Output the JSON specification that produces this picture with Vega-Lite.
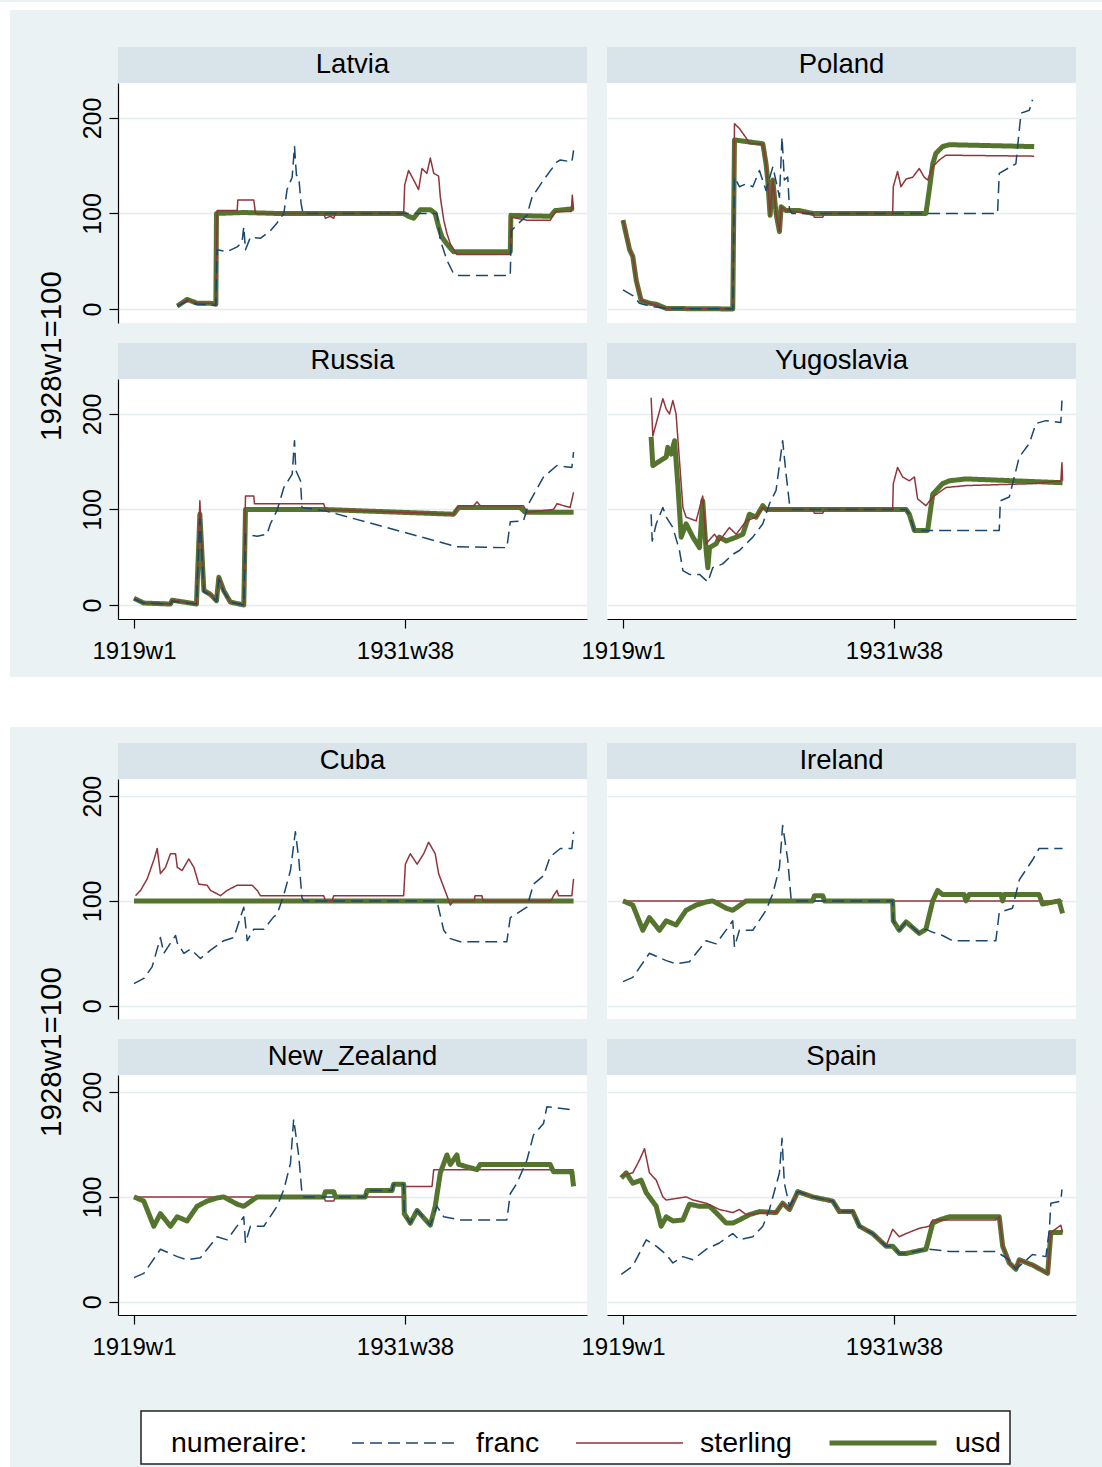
{
"$schema": "https://vega.github.io/schema/vega-lite/v6.json",
"padding": 0,
"background": "#eaf2f3",
"datasets": {"d": [
{"c":"LV","n":"u","t":1921.03,"v":3},{"c":"LV","n":"u","t":1921.49,"v":10},{"c":"LV","n":"u","t":1921.96,"v":6},{"c":"LV","n":"u","t":1922.59,"v":6},{"c":"LV","n":"u","t":1922.84,"v":5},{"c":"LV","n":"u","t":1922.87,"v":100},{"c":"LV","n":"u","t":1924.15,"v":101},{"c":"LV","n":"u","t":1925.71,"v":100},{"c":"LV","n":"u","t":1927.28,"v":100},{"c":"LV","n":"u","t":1928.84,"v":100},{"c":"LV","n":"u","t":1931.65,"v":100},{"c":"LV","n":"u","t":1931.88,"v":97},{"c":"LV","n":"u","t":1932.12,"v":95},{"c":"LV","n":"u","t":1932.43,"v":104},{"c":"LV","n":"u","t":1932.9,"v":104},{"c":"LV","n":"u","t":1933.13,"v":100},{"c":"LV","n":"u","t":1933.29,"v":86},{"c":"LV","n":"u","t":1933.45,"v":75},{"c":"LV","n":"u","t":1933.68,"v":68},{"c":"LV","n":"u","t":1933.99,"v":60},{"c":"LV","n":"u","t":1936.65,"v":60},{"c":"LV","n":"u","t":1936.68,"v":98},{"c":"LV","n":"u","t":1938.53,"v":97},{"c":"LV","n":"u","t":1938.76,"v":103},{"c":"LV","n":"u","t":1939.62,"v":105},
{"c":"LV","n":"s","t":1921.03,"v":3},{"c":"LV","n":"s","t":1921.49,"v":10},{"c":"LV","n":"s","t":1921.96,"v":6},{"c":"LV","n":"s","t":1922.59,"v":6},{"c":"LV","n":"s","t":1922.84,"v":5},{"c":"LV","n":"s","t":1922.9,"v":103},{"c":"LV","n":"s","t":1923.84,"v":103},{"c":"LV","n":"s","t":1923.87,"v":114},{"c":"LV","n":"s","t":1924.62,"v":114},{"c":"LV","n":"s","t":1924.7,"v":100},{"c":"LV","n":"s","t":1927.9,"v":100},{"c":"LV","n":"s","t":1927.98,"v":95},{"c":"LV","n":"s","t":1928.21,"v":97},{"c":"LV","n":"s","t":1928.37,"v":95},{"c":"LV","n":"s","t":1928.45,"v":100},{"c":"LV","n":"s","t":1931.65,"v":100},{"c":"LV","n":"s","t":1931.7,"v":130},{"c":"LV","n":"s","t":1931.88,"v":145},{"c":"LV","n":"s","t":1932.12,"v":135},{"c":"LV","n":"s","t":1932.35,"v":125},{"c":"LV","n":"s","t":1932.51,"v":147},{"c":"LV","n":"s","t":1932.74,"v":142},{"c":"LV","n":"s","t":1932.9,"v":158},{"c":"LV","n":"s","t":1933.06,"v":142},{"c":"LV","n":"s","t":1933.29,"v":139},{"c":"LV","n":"s","t":1933.37,"v":117},{"c":"LV","n":"s","t":1933.53,"v":93},{"c":"LV","n":"s","t":1933.68,"v":79},{"c":"LV","n":"s","t":1933.84,"v":68},{"c":"LV","n":"s","t":1934.15,"v":57},{"c":"LV","n":"s","t":1936.65,"v":57},{"c":"LV","n":"s","t":1936.7,"v":96},{"c":"LV","n":"s","t":1937.43,"v":93},{"c":"LV","n":"s","t":1938.53,"v":93},{"c":"LV","n":"s","t":1938.76,"v":102},{"c":"LV","n":"s","t":1939.51,"v":102},{"c":"LV","n":"s","t":1939.56,"v":119},{"c":"LV","n":"s","t":1939.62,"v":104},
{"c":"LV","n":"f","t":1921.03,"v":3},{"c":"LV","n":"f","t":1921.49,"v":8},{"c":"LV","n":"f","t":1921.96,"v":5},{"c":"LV","n":"f","t":1922.59,"v":4},{"c":"LV","n":"f","t":1922.84,"v":4},{"c":"LV","n":"f","t":1922.9,"v":62},{"c":"LV","n":"f","t":1923.37,"v":60},{"c":"LV","n":"f","t":1923.84,"v":65},{"c":"LV","n":"f","t":1924.07,"v":70},{"c":"LV","n":"f","t":1924.15,"v":86},{"c":"LV","n":"f","t":1924.23,"v":62},{"c":"LV","n":"f","t":1924.46,"v":75},{"c":"LV","n":"f","t":1924.93,"v":74},{"c":"LV","n":"f","t":1925.4,"v":82},{"c":"LV","n":"f","t":1925.71,"v":90},{"c":"LV","n":"f","t":1926.03,"v":100},{"c":"LV","n":"f","t":1926.18,"v":125},{"c":"LV","n":"f","t":1926.42,"v":138},{"c":"LV","n":"f","t":1926.53,"v":170},{"c":"LV","n":"f","t":1926.62,"v":140},{"c":"LV","n":"f","t":1926.73,"v":138},{"c":"LV","n":"f","t":1926.84,"v":110},{"c":"LV","n":"f","t":1926.93,"v":100},{"c":"LV","n":"f","t":1933.21,"v":100},{"c":"LV","n":"f","t":1933.37,"v":72},{"c":"LV","n":"f","t":1933.68,"v":51},{"c":"LV","n":"f","t":1933.99,"v":37},{"c":"LV","n":"f","t":1934.23,"v":35},{"c":"LV","n":"f","t":1936.65,"v":35},{"c":"LV","n":"f","t":1936.7,"v":82},{"c":"LV","n":"f","t":1936.96,"v":88},{"c":"LV","n":"f","t":1937.43,"v":98},{"c":"LV","n":"f","t":1937.67,"v":117},{"c":"LV","n":"f","t":1938.21,"v":135},{"c":"LV","n":"f","t":1938.84,"v":154},{"c":"LV","n":"f","t":1939.0,"v":156},{"c":"LV","n":"f","t":1939.54,"v":154},{"c":"LV","n":"f","t":1939.62,"v":166},
{"c":"PL","n":"u","t":1919.0,"v":93},{"c":"PL","n":"u","t":1919.31,"v":62},{"c":"PL","n":"u","t":1919.46,"v":55},{"c":"PL","n":"u","t":1919.62,"v":30},{"c":"PL","n":"u","t":1919.85,"v":9},{"c":"PL","n":"u","t":1920.24,"v":6},{"c":"PL","n":"u","t":1920.56,"v":5},{"c":"PL","n":"u","t":1921.03,"v":0.5},{"c":"PL","n":"u","t":1924.15,"v":0},{"c":"PL","n":"u","t":1924.23,"v":177},{"c":"PL","n":"u","t":1925.56,"v":173},{"c":"PL","n":"u","t":1925.71,"v":152},{"c":"PL","n":"u","t":1925.79,"v":135},{"c":"PL","n":"u","t":1925.9,"v":98},{"c":"PL","n":"u","t":1926.03,"v":135},{"c":"PL","n":"u","t":1926.18,"v":100},{"c":"PL","n":"u","t":1926.34,"v":81},{"c":"PL","n":"u","t":1926.42,"v":107},{"c":"PL","n":"u","t":1926.65,"v":103},{"c":"PL","n":"u","t":1927.28,"v":103},{"c":"PL","n":"u","t":1927.9,"v":100},{"c":"PL","n":"u","t":1933.21,"v":100},{"c":"PL","n":"u","t":1933.37,"v":125},{"c":"PL","n":"u","t":1933.53,"v":152},{"c":"PL","n":"u","t":1933.68,"v":163},{"c":"PL","n":"u","t":1933.99,"v":170},{"c":"PL","n":"u","t":1934.31,"v":172},{"c":"PL","n":"u","t":1938.29,"v":170},
{"c":"PL","n":"s","t":1919.0,"v":93},{"c":"PL","n":"s","t":1919.31,"v":62},{"c":"PL","n":"s","t":1919.46,"v":55},{"c":"PL","n":"s","t":1919.62,"v":30},{"c":"PL","n":"s","t":1919.85,"v":9},{"c":"PL","n":"s","t":1920.24,"v":6},{"c":"PL","n":"s","t":1921.03,"v":0.5},{"c":"PL","n":"s","t":1924.15,"v":0},{"c":"PL","n":"s","t":1924.23,"v":194},{"c":"PL","n":"s","t":1924.46,"v":189},{"c":"PL","n":"s","t":1924.78,"v":179},{"c":"PL","n":"s","t":1924.93,"v":173},{"c":"PL","n":"s","t":1925.56,"v":173},{"c":"PL","n":"s","t":1925.71,"v":152},{"c":"PL","n":"s","t":1925.79,"v":135},{"c":"PL","n":"s","t":1925.9,"v":98},{"c":"PL","n":"s","t":1926.03,"v":135},{"c":"PL","n":"s","t":1926.18,"v":100},{"c":"PL","n":"s","t":1926.34,"v":81},{"c":"PL","n":"s","t":1926.42,"v":107},{"c":"PL","n":"s","t":1926.65,"v":103},{"c":"PL","n":"s","t":1927.9,"v":100},{"c":"PL","n":"s","t":1927.98,"v":96},{"c":"PL","n":"s","t":1928.37,"v":96},{"c":"PL","n":"s","t":1928.45,"v":100},{"c":"PL","n":"s","t":1931.65,"v":100},{"c":"PL","n":"s","t":1931.68,"v":128},{"c":"PL","n":"s","t":1931.88,"v":144},{"c":"PL","n":"s","t":1932.04,"v":128},{"c":"PL","n":"s","t":1932.28,"v":136},{"c":"PL","n":"s","t":1932.59,"v":138},{"c":"PL","n":"s","t":1932.9,"v":147},{"c":"PL","n":"s","t":1933.13,"v":138},{"c":"PL","n":"s","t":1933.29,"v":135},{"c":"PL","n":"s","t":1933.53,"v":149},{"c":"PL","n":"s","t":1933.84,"v":156},{"c":"PL","n":"s","t":1934.15,"v":161},{"c":"PL","n":"s","t":1938.29,"v":160},
{"c":"PL","n":"f","t":1919.0,"v":20},{"c":"PL","n":"f","t":1919.46,"v":14},{"c":"PL","n":"f","t":1919.77,"v":6},{"c":"PL","n":"f","t":1920.24,"v":3},{"c":"PL","n":"f","t":1921.03,"v":0.5},{"c":"PL","n":"f","t":1924.15,"v":0},{"c":"PL","n":"f","t":1924.23,"v":138},{"c":"PL","n":"f","t":1924.46,"v":128},{"c":"PL","n":"f","t":1924.78,"v":131},{"c":"PL","n":"f","t":1925.09,"v":128},{"c":"PL","n":"f","t":1925.4,"v":145},{"c":"PL","n":"f","t":1925.71,"v":124},{"c":"PL","n":"f","t":1926.03,"v":149},{"c":"PL","n":"f","t":1926.34,"v":117},{"c":"PL","n":"f","t":1926.46,"v":180},{"c":"PL","n":"f","t":1926.57,"v":135},{"c":"PL","n":"f","t":1926.73,"v":138},{"c":"PL","n":"f","t":1926.81,"v":104},{"c":"PL","n":"f","t":1926.93,"v":100},{"c":"PL","n":"f","t":1933.29,"v":100},{"c":"PL","n":"f","t":1936.57,"v":100},{"c":"PL","n":"f","t":1936.65,"v":142},{"c":"PL","n":"f","t":1937.43,"v":152},{"c":"PL","n":"f","t":1937.67,"v":205},{"c":"PL","n":"f","t":1938.06,"v":208},{"c":"PL","n":"f","t":1938.21,"v":219},
{"c":"RU","n":"u","t":1919.0,"v":7},{"c":"RU","n":"u","t":1919.46,"v":2},{"c":"RU","n":"u","t":1920.71,"v":1},{"c":"RU","n":"u","t":1920.79,"v":5},{"c":"RU","n":"u","t":1921.93,"v":1},{"c":"RU","n":"u","t":1922.09,"v":95},{"c":"RU","n":"u","t":1922.28,"v":15},{"c":"RU","n":"u","t":1922.59,"v":11},{"c":"RU","n":"u","t":1922.87,"v":4.5},{"c":"RU","n":"u","t":1922.98,"v":29},{"c":"RU","n":"u","t":1923.21,"v":15},{"c":"RU","n":"u","t":1923.52,"v":3},{"c":"RU","n":"u","t":1924.15,"v":0},{"c":"RU","n":"u","t":1924.23,"v":100},{"c":"RU","n":"u","t":1927.9,"v":100},{"c":"RU","n":"u","t":1933.99,"v":95},{"c":"RU","n":"u","t":1934.23,"v":102},{"c":"RU","n":"u","t":1937.12,"v":102},{"c":"RU","n":"u","t":1937.35,"v":97},{"c":"RU","n":"u","t":1939.62,"v":97},
{"c":"RU","n":"s","t":1919.0,"v":7},{"c":"RU","n":"s","t":1919.46,"v":2},{"c":"RU","n":"s","t":1920.71,"v":1},{"c":"RU","n":"s","t":1920.79,"v":5},{"c":"RU","n":"s","t":1921.93,"v":1},{"c":"RU","n":"s","t":1922.09,"v":109},{"c":"RU","n":"s","t":1922.28,"v":15},{"c":"RU","n":"s","t":1922.59,"v":11},{"c":"RU","n":"s","t":1922.87,"v":4.5},{"c":"RU","n":"s","t":1922.98,"v":29},{"c":"RU","n":"s","t":1923.21,"v":15},{"c":"RU","n":"s","t":1923.52,"v":3},{"c":"RU","n":"s","t":1924.15,"v":0},{"c":"RU","n":"s","t":1924.23,"v":114},{"c":"RU","n":"s","t":1924.62,"v":114},{"c":"RU","n":"s","t":1924.65,"v":106},{"c":"RU","n":"s","t":1927.9,"v":106},{"c":"RU","n":"s","t":1927.98,"v":100},{"c":"RU","n":"s","t":1933.99,"v":95},{"c":"RU","n":"s","t":1934.23,"v":104},{"c":"RU","n":"s","t":1934.93,"v":104},{"c":"RU","n":"s","t":1935.09,"v":108},{"c":"RU","n":"s","t":1935.24,"v":104},{"c":"RU","n":"s","t":1937.27,"v":104},{"c":"RU","n":"s","t":1937.43,"v":97},{"c":"RU","n":"s","t":1938.68,"v":100},{"c":"RU","n":"s","t":1938.84,"v":106},{"c":"RU","n":"s","t":1939.46,"v":102},{"c":"RU","n":"s","t":1939.62,"v":118},
{"c":"RU","n":"f","t":1919.0,"v":6},{"c":"RU","n":"f","t":1919.46,"v":2},{"c":"RU","n":"f","t":1920.71,"v":1},{"c":"RU","n":"f","t":1920.79,"v":4},{"c":"RU","n":"f","t":1921.93,"v":1},{"c":"RU","n":"f","t":1922.09,"v":90},{"c":"RU","n":"f","t":1922.28,"v":14},{"c":"RU","n":"f","t":1922.59,"v":10},{"c":"RU","n":"f","t":1922.87,"v":4},{"c":"RU","n":"f","t":1922.98,"v":27},{"c":"RU","n":"f","t":1923.21,"v":14},{"c":"RU","n":"f","t":1923.52,"v":3},{"c":"RU","n":"f","t":1924.15,"v":0},{"c":"RU","n":"f","t":1924.23,"v":74},{"c":"RU","n":"f","t":1924.78,"v":72},{"c":"RU","n":"f","t":1925.24,"v":74},{"c":"RU","n":"f","t":1925.4,"v":85},{"c":"RU","n":"f","t":1925.71,"v":99},{"c":"RU","n":"f","t":1926.03,"v":123},{"c":"RU","n":"f","t":1926.42,"v":137},{"c":"RU","n":"f","t":1926.53,"v":172},{"c":"RU","n":"f","t":1926.59,"v":141},{"c":"RU","n":"f","t":1926.81,"v":130},{"c":"RU","n":"f","t":1926.88,"v":102},{"c":"RU","n":"f","t":1927.9,"v":99},{"c":"RU","n":"f","t":1934.15,"v":61},{"c":"RU","n":"f","t":1936.49,"v":60},{"c":"RU","n":"f","t":1936.65,"v":87},{"c":"RU","n":"f","t":1937.27,"v":88},{"c":"RU","n":"f","t":1937.51,"v":106},{"c":"RU","n":"f","t":1938.21,"v":134},{"c":"RU","n":"f","t":1938.84,"v":146},{"c":"RU","n":"f","t":1939.54,"v":144},{"c":"RU","n":"f","t":1939.62,"v":160},
{"c":"YU","n":"u","t":1920.32,"v":176},{"c":"YU","n":"u","t":1920.4,"v":146},{"c":"YU","n":"u","t":1921.03,"v":155},{"c":"YU","n":"u","t":1921.1,"v":165},{"c":"YU","n":"u","t":1921.26,"v":158},{"c":"YU","n":"u","t":1921.42,"v":172},{"c":"YU","n":"u","t":1921.57,"v":127},{"c":"YU","n":"u","t":1921.73,"v":71},{"c":"YU","n":"u","t":1921.96,"v":85},{"c":"YU","n":"u","t":1922.28,"v":71},{"c":"YU","n":"u","t":1922.59,"v":60},{"c":"YU","n":"u","t":1922.74,"v":109},{"c":"YU","n":"u","t":1922.9,"v":57},{"c":"YU","n":"u","t":1922.98,"v":39},{"c":"YU","n":"u","t":1923.06,"v":60},{"c":"YU","n":"u","t":1923.37,"v":64},{"c":"YU","n":"u","t":1923.52,"v":71},{"c":"YU","n":"u","t":1923.84,"v":67},{"c":"YU","n":"u","t":1924.31,"v":71},{"c":"YU","n":"u","t":1924.62,"v":74},{"c":"YU","n":"u","t":1924.93,"v":95},{"c":"YU","n":"u","t":1925.24,"v":92},{"c":"YU","n":"u","t":1925.56,"v":104},{"c":"YU","n":"u","t":1925.71,"v":100},{"c":"YU","n":"u","t":1932.28,"v":100},{"c":"YU","n":"u","t":1932.43,"v":95},{"c":"YU","n":"u","t":1932.67,"v":78},{"c":"YU","n":"u","t":1933.29,"v":78},{"c":"YU","n":"u","t":1933.53,"v":116},{"c":"YU","n":"u","t":1933.99,"v":127},{"c":"YU","n":"u","t":1934.31,"v":130},{"c":"YU","n":"u","t":1935.09,"v":132},{"c":"YU","n":"u","t":1939.62,"v":128},
{"c":"YU","n":"s","t":1920.32,"v":217},{"c":"YU","n":"s","t":1920.4,"v":177},{"c":"YU","n":"s","t":1920.87,"v":216},{"c":"YU","n":"s","t":1921.03,"v":205},{"c":"YU","n":"s","t":1921.18,"v":200},{"c":"YU","n":"s","t":1921.34,"v":214},{"c":"YU","n":"s","t":1921.49,"v":200},{"c":"YU","n":"s","t":1921.65,"v":151},{"c":"YU","n":"s","t":1921.81,"v":102},{"c":"YU","n":"s","t":1921.96,"v":92},{"c":"YU","n":"s","t":1922.43,"v":88},{"c":"YU","n":"s","t":1922.74,"v":114},{"c":"YU","n":"s","t":1922.9,"v":64},{"c":"YU","n":"s","t":1923.29,"v":74},{"c":"YU","n":"s","t":1923.52,"v":67},{"c":"YU","n":"s","t":1923.99,"v":81},{"c":"YU","n":"s","t":1924.31,"v":74},{"c":"YU","n":"s","t":1924.78,"v":88},{"c":"YU","n":"s","t":1925.24,"v":92},{"c":"YU","n":"s","t":1925.56,"v":102},{"c":"YU","n":"s","t":1925.71,"v":100},{"c":"YU","n":"s","t":1927.9,"v":100},{"c":"YU","n":"s","t":1927.98,"v":96},{"c":"YU","n":"s","t":1928.37,"v":96},{"c":"YU","n":"s","t":1928.45,"v":100},{"c":"YU","n":"s","t":1931.65,"v":100},{"c":"YU","n":"s","t":1931.68,"v":127},{"c":"YU","n":"s","t":1931.88,"v":144},{"c":"YU","n":"s","t":1932.12,"v":134},{"c":"YU","n":"s","t":1932.43,"v":130},{"c":"YU","n":"s","t":1932.67,"v":134},{"c":"YU","n":"s","t":1932.82,"v":111},{"c":"YU","n":"s","t":1933.21,"v":104},{"c":"YU","n":"s","t":1933.53,"v":113},{"c":"YU","n":"s","t":1934.15,"v":123},{"c":"YU","n":"s","t":1935.09,"v":125},{"c":"YU","n":"s","t":1938.21,"v":127},{"c":"YU","n":"s","t":1939.54,"v":130},{"c":"YU","n":"s","t":1939.59,"v":149},{"c":"YU","n":"s","t":1939.62,"v":130},
{"c":"YU","n":"f","t":1920.32,"v":95},{"c":"YU","n":"f","t":1920.37,"v":67},{"c":"YU","n":"f","t":1920.56,"v":85},{"c":"YU","n":"f","t":1920.87,"v":102},{"c":"YU","n":"f","t":1921.03,"v":92},{"c":"YU","n":"f","t":1921.34,"v":81},{"c":"YU","n":"f","t":1921.65,"v":57},{"c":"YU","n":"f","t":1921.81,"v":36},{"c":"YU","n":"f","t":1922.12,"v":32},{"c":"YU","n":"f","t":1922.59,"v":32},{"c":"YU","n":"f","t":1922.98,"v":24},{"c":"YU","n":"f","t":1923.21,"v":39},{"c":"YU","n":"f","t":1923.68,"v":43},{"c":"YU","n":"f","t":1924.15,"v":53},{"c":"YU","n":"f","t":1924.46,"v":57},{"c":"YU","n":"f","t":1925.09,"v":71},{"c":"YU","n":"f","t":1925.56,"v":85},{"c":"YU","n":"f","t":1925.87,"v":106},{"c":"YU","n":"f","t":1926.18,"v":120},{"c":"YU","n":"f","t":1926.49,"v":172},{"c":"YU","n":"f","t":1926.65,"v":137},{"c":"YU","n":"f","t":1926.81,"v":106},{"c":"YU","n":"f","t":1926.93,"v":100},{"c":"YU","n":"f","t":1932.28,"v":100},{"c":"YU","n":"f","t":1932.43,"v":95},{"c":"YU","n":"f","t":1932.67,"v":78},{"c":"YU","n":"f","t":1936.65,"v":78},{"c":"YU","n":"f","t":1936.7,"v":109},{"c":"YU","n":"f","t":1937.12,"v":113},{"c":"YU","n":"f","t":1937.59,"v":155},{"c":"YU","n":"f","t":1938.06,"v":169},{"c":"YU","n":"f","t":1938.37,"v":190},{"c":"YU","n":"f","t":1938.84,"v":193},{"c":"YU","n":"f","t":1939.54,"v":191},{"c":"YU","n":"f","t":1939.59,"v":214},
{"c":"CU","n":"u","t":1919.0,"v":100},{"c":"CU","n":"u","t":1939.62,"v":100},
{"c":"CU","n":"s","t":1919.07,"v":105},{"c":"CU","n":"s","t":1919.31,"v":110},{"c":"CU","n":"s","t":1919.62,"v":121},{"c":"CU","n":"s","t":1919.93,"v":139},{"c":"CU","n":"s","t":1920.09,"v":150},{"c":"CU","n":"s","t":1920.24,"v":126},{"c":"CU","n":"s","t":1920.48,"v":132},{"c":"CU","n":"s","t":1920.71,"v":145},{"c":"CU","n":"s","t":1920.95,"v":145},{"c":"CU","n":"s","t":1921.03,"v":132},{"c":"CU","n":"s","t":1921.26,"v":129},{"c":"CU","n":"s","t":1921.57,"v":140},{"c":"CU","n":"s","t":1921.81,"v":132},{"c":"CU","n":"s","t":1922.04,"v":116},{"c":"CU","n":"s","t":1922.43,"v":115},{"c":"CU","n":"s","t":1922.59,"v":110},{"c":"CU","n":"s","t":1923.06,"v":105},{"c":"CU","n":"s","t":1923.37,"v":110},{"c":"CU","n":"s","t":1923.84,"v":115},{"c":"CU","n":"s","t":1924.54,"v":115},{"c":"CU","n":"s","t":1924.78,"v":110},{"c":"CU","n":"s","t":1924.93,"v":105},{"c":"CU","n":"s","t":1927.9,"v":105},{"c":"CU","n":"s","t":1927.98,"v":100},{"c":"CU","n":"s","t":1928.29,"v":100},{"c":"CU","n":"s","t":1928.37,"v":105},{"c":"CU","n":"s","t":1931.65,"v":105},{"c":"CU","n":"s","t":1931.73,"v":135},{"c":"CU","n":"s","t":1931.96,"v":145},{"c":"CU","n":"s","t":1932.28,"v":135},{"c":"CU","n":"s","t":1932.59,"v":145},{"c":"CU","n":"s","t":1932.82,"v":156},{"c":"CU","n":"s","t":1933.13,"v":145},{"c":"CU","n":"s","t":1933.29,"v":126},{"c":"CU","n":"s","t":1933.53,"v":113},{"c":"CU","n":"s","t":1933.68,"v":105},{"c":"CU","n":"s","t":1933.84,"v":96},{"c":"CU","n":"s","t":1933.99,"v":100},{"c":"CU","n":"s","t":1934.96,"v":100},{"c":"CU","n":"s","t":1935.0,"v":105},{"c":"CU","n":"s","t":1935.32,"v":105},{"c":"CU","n":"s","t":1935.37,"v":100},{"c":"CU","n":"s","t":1938.56,"v":100},{"c":"CU","n":"s","t":1938.68,"v":105},{"c":"CU","n":"s","t":1938.84,"v":110},{"c":"CU","n":"s","t":1938.92,"v":105},{"c":"CU","n":"s","t":1939.54,"v":105},{"c":"CU","n":"s","t":1939.62,"v":121},
{"c":"CU","n":"f","t":1919.0,"v":21},{"c":"CU","n":"f","t":1919.46,"v":26},{"c":"CU","n":"f","t":1919.85,"v":37},{"c":"CU","n":"f","t":1920.24,"v":65},{"c":"CU","n":"f","t":1920.4,"v":50},{"c":"CU","n":"f","t":1920.95,"v":67},{"c":"CU","n":"f","t":1921.03,"v":60},{"c":"CU","n":"f","t":1921.34,"v":50},{"c":"CU","n":"f","t":1921.65,"v":54},{"c":"CU","n":"f","t":1922.12,"v":45},{"c":"CU","n":"f","t":1922.59,"v":53},{"c":"CU","n":"f","t":1923.21,"v":62},{"c":"CU","n":"f","t":1923.68,"v":65},{"c":"CU","n":"f","t":1924.15,"v":94},{"c":"CU","n":"f","t":1924.31,"v":62},{"c":"CU","n":"f","t":1924.62,"v":73},{"c":"CU","n":"f","t":1925.09,"v":73},{"c":"CU","n":"f","t":1925.56,"v":85},{"c":"CU","n":"f","t":1925.71,"v":87},{"c":"CU","n":"f","t":1926.03,"v":106},{"c":"CU","n":"f","t":1926.34,"v":129},{"c":"CU","n":"f","t":1926.57,"v":166},{"c":"CU","n":"f","t":1926.73,"v":140},{"c":"CU","n":"f","t":1926.88,"v":103},{"c":"CU","n":"f","t":1926.96,"v":100},{"c":"CU","n":"f","t":1933.21,"v":100},{"c":"CU","n":"f","t":1933.53,"v":72},{"c":"CU","n":"f","t":1933.84,"v":64},{"c":"CU","n":"f","t":1934.31,"v":61},{"c":"CU","n":"f","t":1936.49,"v":61},{"c":"CU","n":"f","t":1936.65,"v":84},{"c":"CU","n":"f","t":1937.43,"v":94},{"c":"CU","n":"f","t":1937.74,"v":116},{"c":"CU","n":"f","t":1938.21,"v":124},{"c":"CU","n":"f","t":1938.52,"v":142},{"c":"CU","n":"f","t":1939.0,"v":150},{"c":"CU","n":"f","t":1939.54,"v":150},{"c":"CU","n":"f","t":1939.62,"v":166},
{"c":"IE","n":"s","t":1919.0,"v":100},{"c":"IE","n":"s","t":1939.62,"v":100},
{"c":"IE","n":"u","t":1919.0,"v":100},{"c":"IE","n":"u","t":1919.46,"v":96},{"c":"IE","n":"u","t":1919.93,"v":72},{"c":"IE","n":"u","t":1920.24,"v":84},{"c":"IE","n":"u","t":1920.71,"v":72},{"c":"IE","n":"u","t":1921.03,"v":81},{"c":"IE","n":"u","t":1921.49,"v":77},{"c":"IE","n":"u","t":1921.96,"v":91},{"c":"IE","n":"u","t":1922.43,"v":96},{"c":"IE","n":"u","t":1922.9,"v":99},{"c":"IE","n":"u","t":1923.21,"v":100},{"c":"IE","n":"u","t":1923.84,"v":93},{"c":"IE","n":"u","t":1924.15,"v":91},{"c":"IE","n":"u","t":1924.78,"v":100},{"c":"IE","n":"u","t":1927.9,"v":100},{"c":"IE","n":"u","t":1927.98,"v":105},{"c":"IE","n":"u","t":1928.37,"v":105},{"c":"IE","n":"u","t":1928.45,"v":100},{"c":"IE","n":"u","t":1931.65,"v":100},{"c":"IE","n":"u","t":1931.68,"v":81},{"c":"IE","n":"u","t":1931.96,"v":72},{"c":"IE","n":"u","t":1932.28,"v":80},{"c":"IE","n":"u","t":1932.9,"v":69},{"c":"IE","n":"u","t":1933.21,"v":73},{"c":"IE","n":"u","t":1933.53,"v":100},{"c":"IE","n":"u","t":1933.76,"v":110},{"c":"IE","n":"u","t":1933.99,"v":106},{"c":"IE","n":"u","t":1935.0,"v":106},{"c":"IE","n":"u","t":1935.09,"v":100},{"c":"IE","n":"u","t":1935.24,"v":106},{"c":"IE","n":"u","t":1936.73,"v":106},{"c":"IE","n":"u","t":1936.81,"v":100},{"c":"IE","n":"u","t":1936.88,"v":106},{"c":"IE","n":"u","t":1938.52,"v":106},{"c":"IE","n":"u","t":1938.68,"v":97},{"c":"IE","n":"u","t":1939.46,"v":100},{"c":"IE","n":"u","t":1939.62,"v":88},
{"c":"IE","n":"f","t":1919.0,"v":23},{"c":"IE","n":"f","t":1919.46,"v":27},{"c":"IE","n":"f","t":1920.24,"v":50},{"c":"IE","n":"f","t":1921.03,"v":43},{"c":"IE","n":"f","t":1921.49,"v":40},{"c":"IE","n":"f","t":1922.12,"v":42},{"c":"IE","n":"f","t":1922.9,"v":62},{"c":"IE","n":"f","t":1923.37,"v":59},{"c":"IE","n":"f","t":1924.15,"v":81},{"c":"IE","n":"f","t":1924.23,"v":56},{"c":"IE","n":"f","t":1924.46,"v":72},{"c":"IE","n":"f","t":1925.09,"v":72},{"c":"IE","n":"f","t":1925.71,"v":91},{"c":"IE","n":"f","t":1926.03,"v":107},{"c":"IE","n":"f","t":1926.34,"v":132},{"c":"IE","n":"f","t":1926.49,"v":172},{"c":"IE","n":"f","t":1926.73,"v":139},{"c":"IE","n":"f","t":1926.88,"v":103},{"c":"IE","n":"f","t":1926.96,"v":100},{"c":"IE","n":"f","t":1931.65,"v":100},{"c":"IE","n":"f","t":1931.68,"v":81},{"c":"IE","n":"f","t":1931.96,"v":72},{"c":"IE","n":"f","t":1932.28,"v":80},{"c":"IE","n":"f","t":1932.9,"v":69},{"c":"IE","n":"f","t":1933.21,"v":73},{"c":"IE","n":"f","t":1933.53,"v":70},{"c":"IE","n":"f","t":1933.99,"v":67},{"c":"IE","n":"f","t":1934.46,"v":62},{"c":"IE","n":"f","t":1936.49,"v":62},{"c":"IE","n":"f","t":1936.65,"v":89},{"c":"IE","n":"f","t":1937.27,"v":93},{"c":"IE","n":"f","t":1937.59,"v":120},{"c":"IE","n":"f","t":1938.21,"v":139},{"c":"IE","n":"f","t":1938.52,"v":150},{"c":"IE","n":"f","t":1939.62,"v":150},
{"c":"NZ","n":"s","t":1919.0,"v":100},{"c":"NZ","n":"s","t":1927.9,"v":100},{"c":"NZ","n":"s","t":1927.98,"v":96},{"c":"NZ","n":"s","t":1928.37,"v":96},{"c":"NZ","n":"s","t":1928.45,"v":100},{"c":"NZ","n":"s","t":1931.65,"v":100},{"c":"NZ","n":"s","t":1931.68,"v":110},{"c":"NZ","n":"s","t":1932.98,"v":110},{"c":"NZ","n":"s","t":1933.06,"v":126},{"c":"NZ","n":"s","t":1939.62,"v":126},
{"c":"NZ","n":"u","t":1919.0,"v":100},{"c":"NZ","n":"u","t":1919.46,"v":96},{"c":"NZ","n":"u","t":1919.93,"v":72},{"c":"NZ","n":"u","t":1920.24,"v":84},{"c":"NZ","n":"u","t":1920.71,"v":72},{"c":"NZ","n":"u","t":1921.03,"v":81},{"c":"NZ","n":"u","t":1921.49,"v":77},{"c":"NZ","n":"u","t":1921.96,"v":91},{"c":"NZ","n":"u","t":1922.43,"v":96},{"c":"NZ","n":"u","t":1922.9,"v":99},{"c":"NZ","n":"u","t":1923.21,"v":100},{"c":"NZ","n":"u","t":1923.84,"v":93},{"c":"NZ","n":"u","t":1924.15,"v":91},{"c":"NZ","n":"u","t":1924.78,"v":100},{"c":"NZ","n":"u","t":1927.9,"v":100},{"c":"NZ","n":"u","t":1927.98,"v":105},{"c":"NZ","n":"u","t":1928.37,"v":105},{"c":"NZ","n":"u","t":1928.45,"v":100},{"c":"NZ","n":"u","t":1929.85,"v":100},{"c":"NZ","n":"u","t":1929.93,"v":106},{"c":"NZ","n":"u","t":1931.1,"v":106},{"c":"NZ","n":"u","t":1931.18,"v":112},{"c":"NZ","n":"u","t":1931.65,"v":112},{"c":"NZ","n":"u","t":1931.68,"v":84},{"c":"NZ","n":"u","t":1931.96,"v":75},{"c":"NZ","n":"u","t":1932.28,"v":87},{"c":"NZ","n":"u","t":1932.9,"v":73},{"c":"NZ","n":"u","t":1933.13,"v":91},{"c":"NZ","n":"u","t":1933.37,"v":123},{"c":"NZ","n":"u","t":1933.68,"v":140},{"c":"NZ","n":"u","t":1933.84,"v":131},{"c":"NZ","n":"u","t":1934.15,"v":140},{"c":"NZ","n":"u","t":1934.23,"v":131},{"c":"NZ","n":"u","t":1935.09,"v":126},{"c":"NZ","n":"u","t":1935.24,"v":131},{"c":"NZ","n":"u","t":1938.52,"v":131},{"c":"NZ","n":"u","t":1938.68,"v":124},{"c":"NZ","n":"u","t":1939.54,"v":124},{"c":"NZ","n":"u","t":1939.62,"v":110},
{"c":"NZ","n":"f","t":1919.0,"v":23},{"c":"NZ","n":"f","t":1919.46,"v":27},{"c":"NZ","n":"f","t":1920.24,"v":50},{"c":"NZ","n":"f","t":1921.03,"v":43},{"c":"NZ","n":"f","t":1921.49,"v":40},{"c":"NZ","n":"f","t":1922.12,"v":42},{"c":"NZ","n":"f","t":1922.9,"v":62},{"c":"NZ","n":"f","t":1923.37,"v":59},{"c":"NZ","n":"f","t":1924.15,"v":81},{"c":"NZ","n":"f","t":1924.23,"v":56},{"c":"NZ","n":"f","t":1924.46,"v":72},{"c":"NZ","n":"f","t":1925.09,"v":72},{"c":"NZ","n":"f","t":1925.71,"v":91},{"c":"NZ","n":"f","t":1926.03,"v":107},{"c":"NZ","n":"f","t":1926.34,"v":132},{"c":"NZ","n":"f","t":1926.49,"v":174},{"c":"NZ","n":"f","t":1926.73,"v":139},{"c":"NZ","n":"f","t":1926.88,"v":103},{"c":"NZ","n":"f","t":1926.96,"v":100},{"c":"NZ","n":"f","t":1929.85,"v":100},{"c":"NZ","n":"f","t":1929.93,"v":106},{"c":"NZ","n":"f","t":1931.1,"v":106},{"c":"NZ","n":"f","t":1931.18,"v":112},{"c":"NZ","n":"f","t":1931.65,"v":112},{"c":"NZ","n":"f","t":1931.68,"v":84},{"c":"NZ","n":"f","t":1931.96,"v":75},{"c":"NZ","n":"f","t":1932.28,"v":87},{"c":"NZ","n":"f","t":1932.9,"v":73},{"c":"NZ","n":"f","t":1933.21,"v":91},{"c":"NZ","n":"f","t":1933.53,"v":81},{"c":"NZ","n":"f","t":1934.31,"v":78},{"c":"NZ","n":"f","t":1936.49,"v":78},{"c":"NZ","n":"f","t":1936.65,"v":103},{"c":"NZ","n":"f","t":1936.96,"v":113},{"c":"NZ","n":"f","t":1937.43,"v":135},{"c":"NZ","n":"f","t":1937.74,"v":159},{"c":"NZ","n":"f","t":1938.21,"v":170},{"c":"NZ","n":"f","t":1938.37,"v":186},{"c":"NZ","n":"f","t":1938.84,"v":185},{"c":"NZ","n":"f","t":1939.62,"v":183},
{"c":"ES","n":"u","t":1918.92,"v":118},{"c":"ES","n":"u","t":1919.15,"v":123},{"c":"ES","n":"u","t":1919.46,"v":113},{"c":"ES","n":"u","t":1919.85,"v":116},{"c":"ES","n":"u","t":1920.09,"v":104},{"c":"ES","n":"u","t":1920.56,"v":91},{"c":"ES","n":"u","t":1920.79,"v":72},{"c":"ES","n":"u","t":1921.03,"v":81},{"c":"ES","n":"u","t":1921.34,"v":77},{"c":"ES","n":"u","t":1921.81,"v":78},{"c":"ES","n":"u","t":1922.12,"v":93},{"c":"ES","n":"u","t":1922.59,"v":91},{"c":"ES","n":"u","t":1923.06,"v":91},{"c":"ES","n":"u","t":1923.37,"v":85},{"c":"ES","n":"u","t":1923.84,"v":75},{"c":"ES","n":"u","t":1924.15,"v":75},{"c":"ES","n":"u","t":1924.46,"v":78},{"c":"ES","n":"u","t":1924.93,"v":83},{"c":"ES","n":"u","t":1925.4,"v":86},{"c":"ES","n":"u","t":1926.18,"v":85},{"c":"ES","n":"u","t":1926.49,"v":94},{"c":"ES","n":"u","t":1926.81,"v":88},{"c":"ES","n":"u","t":1927.2,"v":105},{"c":"ES","n":"u","t":1927.9,"v":100},{"c":"ES","n":"u","t":1928.84,"v":96},{"c":"ES","n":"u","t":1929.15,"v":86},{"c":"ES","n":"u","t":1929.78,"v":86},{"c":"ES","n":"u","t":1930.09,"v":72},{"c":"ES","n":"u","t":1930.71,"v":65},{"c":"ES","n":"u","t":1931.34,"v":53},{"c":"ES","n":"u","t":1931.65,"v":53},{"c":"ES","n":"u","t":1931.96,"v":46},{"c":"ES","n":"u","t":1932.28,"v":46},{"c":"ES","n":"u","t":1933.21,"v":50},{"c":"ES","n":"u","t":1933.53,"v":75},{"c":"ES","n":"u","t":1933.84,"v":78},{"c":"ES","n":"u","t":1934.31,"v":81},{"c":"ES","n":"u","t":1936.65,"v":81},{"c":"ES","n":"u","t":1936.81,"v":53},{"c":"ES","n":"u","t":1937.12,"v":37},{"c":"ES","n":"u","t":1937.43,"v":31},{"c":"ES","n":"u","t":1937.59,"v":40},{"c":"ES","n":"u","t":1938.21,"v":35},{"c":"ES","n":"u","t":1938.92,"v":27},{"c":"ES","n":"u","t":1939.07,"v":66},{"c":"ES","n":"u","t":1939.62,"v":66},
{"c":"ES","n":"s","t":1918.92,"v":120},{"c":"ES","n":"s","t":1919.46,"v":123},{"c":"ES","n":"s","t":1919.77,"v":135},{"c":"ES","n":"s","t":1920.01,"v":146},{"c":"ES","n":"s","t":1920.24,"v":123},{"c":"ES","n":"s","t":1920.56,"v":116},{"c":"ES","n":"s","t":1920.87,"v":100},{"c":"ES","n":"s","t":1921.03,"v":97},{"c":"ES","n":"s","t":1921.96,"v":100},{"c":"ES","n":"s","t":1922.28,"v":97},{"c":"ES","n":"s","t":1922.9,"v":94},{"c":"ES","n":"s","t":1923.52,"v":88},{"c":"ES","n":"s","t":1924.15,"v":85},{"c":"ES","n":"s","t":1924.46,"v":88},{"c":"ES","n":"s","t":1924.78,"v":83},{"c":"ES","n":"s","t":1925.71,"v":85},{"c":"ES","n":"s","t":1926.18,"v":85},{"c":"ES","n":"s","t":1926.49,"v":94},{"c":"ES","n":"s","t":1926.81,"v":88},{"c":"ES","n":"s","t":1927.2,"v":105},{"c":"ES","n":"s","t":1927.9,"v":100},{"c":"ES","n":"s","t":1928.84,"v":96},{"c":"ES","n":"s","t":1929.15,"v":86},{"c":"ES","n":"s","t":1929.78,"v":86},{"c":"ES","n":"s","t":1930.09,"v":72},{"c":"ES","n":"s","t":1930.71,"v":65},{"c":"ES","n":"s","t":1931.34,"v":53},{"c":"ES","n":"s","t":1931.65,"v":69},{"c":"ES","n":"s","t":1931.96,"v":62},{"c":"ES","n":"s","t":1932.28,"v":65},{"c":"ES","n":"s","t":1932.9,"v":70},{"c":"ES","n":"s","t":1933.37,"v":72},{"c":"ES","n":"s","t":1933.53,"v":78},{"c":"ES","n":"s","t":1936.49,"v":78},{"c":"ES","n":"s","t":1936.65,"v":81},{"c":"ES","n":"s","t":1936.81,"v":53},{"c":"ES","n":"s","t":1937.12,"v":37},{"c":"ES","n":"s","t":1937.43,"v":31},{"c":"ES","n":"s","t":1937.59,"v":40},{"c":"ES","n":"s","t":1938.21,"v":35},{"c":"ES","n":"s","t":1938.92,"v":27},{"c":"ES","n":"s","t":1939.07,"v":66},{"c":"ES","n":"s","t":1939.54,"v":73},{"c":"ES","n":"s","t":1939.62,"v":66},
{"c":"ES","n":"f","t":1918.92,"v":26},{"c":"ES","n":"f","t":1919.46,"v":34},{"c":"ES","n":"f","t":1920.09,"v":59},{"c":"ES","n":"f","t":1920.56,"v":53},{"c":"ES","n":"f","t":1921.03,"v":45},{"c":"ES","n":"f","t":1921.34,"v":37},{"c":"ES","n":"f","t":1921.81,"v":43},{"c":"ES","n":"f","t":1922.28,"v":40},{"c":"ES","n":"f","t":1922.9,"v":50},{"c":"ES","n":"f","t":1923.52,"v":56},{"c":"ES","n":"f","t":1924.15,"v":65},{"c":"ES","n":"f","t":1924.46,"v":59},{"c":"ES","n":"f","t":1925.09,"v":62},{"c":"ES","n":"f","t":1925.56,"v":72},{"c":"ES","n":"f","t":1925.87,"v":88},{"c":"ES","n":"f","t":1926.34,"v":123},{"c":"ES","n":"f","t":1926.46,"v":156},{"c":"ES","n":"f","t":1926.57,"v":113},{"c":"ES","n":"f","t":1926.81,"v":91},{"c":"ES","n":"f","t":1927.2,"v":105},{"c":"ES","n":"f","t":1927.9,"v":100},{"c":"ES","n":"f","t":1928.84,"v":96},{"c":"ES","n":"f","t":1929.15,"v":86},{"c":"ES","n":"f","t":1929.78,"v":86},{"c":"ES","n":"f","t":1930.09,"v":72},{"c":"ES","n":"f","t":1930.71,"v":65},{"c":"ES","n":"f","t":1931.34,"v":53},{"c":"ES","n":"f","t":1931.65,"v":53},{"c":"ES","n":"f","t":1931.96,"v":46},{"c":"ES","n":"f","t":1932.28,"v":46},{"c":"ES","n":"f","t":1933.21,"v":50},{"c":"ES","n":"f","t":1933.37,"v":50},{"c":"ES","n":"f","t":1934.31,"v":48},{"c":"ES","n":"f","t":1936.49,"v":48},{"c":"ES","n":"f","t":1937.12,"v":40},{"c":"ES","n":"f","t":1937.43,"v":31},{"c":"ES","n":"f","t":1938.21,"v":45},{"c":"ES","n":"f","t":1938.84,"v":43},{"c":"ES","n":"f","t":1939.0,"v":69},{"c":"ES","n":"f","t":1939.07,"v":94},{"c":"ES","n":"f","t":1939.54,"v":96},{"c":"ES","n":"f","t":1939.59,"v":107}
]},
"spacing": 0,
"bounds": "full",
"hconcat": [
 {"width": 10, "height": 1467, "data": {"values": [{}]}, "mark": "text", "encoding": {"text": {"value": ""}}, "view": {"fill": "white", "stroke": null}},
 {"spacing": 0, "bounds": "full", "vconcat": [
  {"width": 1092, "height": 8, "data": {"values": [{}]}, "mark": "text", "encoding": {"text": {"value": ""}}, "view": {"fill": "white", "stroke": null}},
  {"width": 1092, "height": 36, "data": {"values": [{}]}, "mark": "text", "encoding": {"text": {"value": ""}}},
  {"spacing": 0, "bounds": "full", "hconcat": [
   {"spacing": 0, "bounds": "flush", "vconcat": [
    {"width": 70, "height": 45, "data": {"values": [{}]}, "mark": "text", "encoding": {"text": {"value": ""}}},
    {"width": 70, "height": 528, "data": {"values": [{"s": "1928w1=100"}]}, "mark": {"type": "text", "angle": 270, "fontSize": 29.5, "dy": 7, "color": "#000"}, "encoding": {"text": {"field": "s"}}}
   ]},
   {"columns": 2, "spacing": {"row": 20, "column": -7}, "bounds": "full", "align": "each", "concat": [
     {"spacing": 0, "bounds": "flush", "vconcat": [
      {"width": 469, "height": 36, "data": {"values": [{"s": "Latvia"}]}, "mark": {"type": "text", "fontSize": 27.5, "color": "#000"}, "encoding": {"text": {"field": "s"}}, "view": {"fill": "#d9e4ea", "stroke": null}},
      {"width": 469, "height": 240, "data": {"name": "d"}, "transform": [{"filter": {"field": "c", "equal": "LV"}}], "view": {"fill": "white", "stroke": null}, "mark": {"type": "line", "strokeJoin": "round"},
       "encoding": {
        "x": {"field": "t", "type": "quantitative", "scale": {"domain": [1918.25, 1940.25], "nice": false, "zero": false}, "axis": null},
        "y": {"field": "v", "type": "quantitative", "scale": {"domain": [-14.7, 236.6], "nice": false, "zero": false}, "axis": {"values": [0, 100, 200], "title": null, "grid": true, "gridColor": "#e3ecef", "gridWidth": 1.5, "domainColor": "#000", "domainWidth": 1.2, "tickColor": "#000", "tickWidth": 1.2, "tickSize": 9, "labelAngle": 270, "labelAlign": "center", "labelBaseline": "bottom", "labelPadding": 4, "labelFontSize": 25, "labelColor": "#000"}},
        "color": {"field": "n", "type": "nominal", "title": "numeraire:", "scale": {"domain": ["f", "s", "u"], "range": ["#1a476f", "#90353b", "#55752f"]}, "legend": {"labelExpr": "datum.label == 'f' ? 'franc' : datum.label == 's' ? 'sterling' : 'usd'"}},
        "strokeDash": {"field": "n", "type": "nominal", "title": "numeraire:", "scale": {"domain": ["f", "s", "u"], "range": [[12, 6], [1, 0], [1, 0]]}, "legend": {"labelExpr": "datum.label == 'f' ? 'franc' : datum.label == 's' ? 'sterling' : 'usd'"}},
        "strokeWidth": {"field": "n", "type": "nominal", "title": "numeraire:", "scale": {"type": "ordinal", "domain": ["f", "s", "u"], "range": [1.5, 1.5, 5]}, "legend": {"labelExpr": "datum.label == 'f' ? 'franc' : datum.label == 's' ? 'sterling' : 'usd'"}}
       }}
     ]},
     {"spacing": 0, "bounds": "flush", "vconcat": [
      {"width": 469, "height": 36, "data": {"values": [{"s": "Poland"}]}, "mark": {"type": "text", "fontSize": 27.5, "color": "#000"}, "encoding": {"text": {"field": "s"}}, "view": {"fill": "#d9e4ea", "stroke": null}},
      {"width": 469, "height": 240, "data": {"name": "d"}, "transform": [{"filter": {"field": "c", "equal": "PL"}}], "view": {"fill": "white", "stroke": null}, "mark": {"type": "line", "strokeJoin": "round"},
       "encoding": {
        "x": {"field": "t", "type": "quantitative", "scale": {"domain": [1918.25, 1940.25], "nice": false, "zero": false}, "axis": null},
        "y": {"field": "v", "type": "quantitative", "scale": {"domain": [-14.7, 236.6], "nice": false, "zero": false}, "axis": {"values": [0, 100, 200], "title": null, "grid": true, "gridColor": "#e3ecef", "gridWidth": 1.5, "domain": false, "ticks": false, "labels": false}},
        "color": {"field": "n", "type": "nominal", "title": "numeraire:", "scale": {"domain": ["f", "s", "u"], "range": ["#1a476f", "#90353b", "#55752f"]}, "legend": {"labelExpr": "datum.label == 'f' ? 'franc' : datum.label == 's' ? 'sterling' : 'usd'"}},
        "strokeDash": {"field": "n", "type": "nominal", "title": "numeraire:", "scale": {"domain": ["f", "s", "u"], "range": [[12, 6], [1, 0], [1, 0]]}, "legend": {"labelExpr": "datum.label == 'f' ? 'franc' : datum.label == 's' ? 'sterling' : 'usd'"}},
        "strokeWidth": {"field": "n", "type": "nominal", "title": "numeraire:", "scale": {"type": "ordinal", "domain": ["f", "s", "u"], "range": [1.5, 1.5, 5]}, "legend": {"labelExpr": "datum.label == 'f' ? 'franc' : datum.label == 's' ? 'sterling' : 'usd'"}}
       }}
     ]},
     {"spacing": 0, "bounds": "flush", "vconcat": [
      {"width": 469, "height": 36, "data": {"values": [{"s": "Russia"}]}, "mark": {"type": "text", "fontSize": 27.5, "color": "#000"}, "encoding": {"text": {"field": "s"}}, "view": {"fill": "#d9e4ea", "stroke": null}},
      {"width": 469, "height": 240, "data": {"name": "d"}, "transform": [{"filter": {"field": "c", "equal": "RU"}}], "view": {"fill": "white", "stroke": null}, "mark": {"type": "line", "strokeJoin": "round"},
       "encoding": {
        "x": {"field": "t", "type": "quantitative", "scale": {"domain": [1918.25, 1940.25], "nice": false, "zero": false}, "axis": {"values": [1919, 1931.712], "labelExpr": "datum.value < 1925 ? '1919w1' : '1931w38'", "title": null, "grid": false, "domainColor": "#000", "domainWidth": 1.2, "tickColor": "#000", "tickWidth": 1.2, "tickSize": 9, "labelPadding": 11, "labelFontSize": 24, "labelColor": "#000", "labelFlush": false, "labelOverlap": false}},
        "y": {"field": "v", "type": "quantitative", "scale": {"domain": [-14.7, 236.6], "nice": false, "zero": false}, "axis": {"values": [0, 100, 200], "title": null, "grid": true, "gridColor": "#e3ecef", "gridWidth": 1.5, "domainColor": "#000", "domainWidth": 1.2, "tickColor": "#000", "tickWidth": 1.2, "tickSize": 9, "labelAngle": 270, "labelAlign": "center", "labelBaseline": "bottom", "labelPadding": 4, "labelFontSize": 25, "labelColor": "#000"}},
        "color": {"field": "n", "type": "nominal", "title": "numeraire:", "scale": {"domain": ["f", "s", "u"], "range": ["#1a476f", "#90353b", "#55752f"]}, "legend": {"labelExpr": "datum.label == 'f' ? 'franc' : datum.label == 's' ? 'sterling' : 'usd'"}},
        "strokeDash": {"field": "n", "type": "nominal", "title": "numeraire:", "scale": {"domain": ["f", "s", "u"], "range": [[12, 6], [1, 0], [1, 0]]}, "legend": {"labelExpr": "datum.label == 'f' ? 'franc' : datum.label == 's' ? 'sterling' : 'usd'"}},
        "strokeWidth": {"field": "n", "type": "nominal", "title": "numeraire:", "scale": {"type": "ordinal", "domain": ["f", "s", "u"], "range": [1.5, 1.5, 5]}, "legend": {"labelExpr": "datum.label == 'f' ? 'franc' : datum.label == 's' ? 'sterling' : 'usd'"}}
       }}
     ]},
     {"spacing": 0, "bounds": "flush", "vconcat": [
      {"width": 469, "height": 36, "data": {"values": [{"s": "Yugoslavia"}]}, "mark": {"type": "text", "fontSize": 27.5, "color": "#000"}, "encoding": {"text": {"field": "s"}}, "view": {"fill": "#d9e4ea", "stroke": null}},
      {"width": 469, "height": 240, "data": {"name": "d"}, "transform": [{"filter": {"field": "c", "equal": "YU"}}], "view": {"fill": "white", "stroke": null}, "mark": {"type": "line", "strokeJoin": "round"},
       "encoding": {
        "x": {"field": "t", "type": "quantitative", "scale": {"domain": [1918.25, 1940.25], "nice": false, "zero": false}, "axis": {"values": [1919, 1931.712], "labelExpr": "datum.value < 1925 ? '1919w1' : '1931w38'", "title": null, "grid": false, "domainColor": "#000", "domainWidth": 1.2, "tickColor": "#000", "tickWidth": 1.2, "tickSize": 9, "labelPadding": 11, "labelFontSize": 24, "labelColor": "#000", "labelFlush": false, "labelOverlap": false}},
        "y": {"field": "v", "type": "quantitative", "scale": {"domain": [-14.7, 236.6], "nice": false, "zero": false}, "axis": {"values": [0, 100, 200], "title": null, "grid": true, "gridColor": "#e3ecef", "gridWidth": 1.5, "domain": false, "ticks": false, "labels": false}},
        "color": {"field": "n", "type": "nominal", "title": "numeraire:", "scale": {"domain": ["f", "s", "u"], "range": ["#1a476f", "#90353b", "#55752f"]}, "legend": {"labelExpr": "datum.label == 'f' ? 'franc' : datum.label == 's' ? 'sterling' : 'usd'"}},
        "strokeDash": {"field": "n", "type": "nominal", "title": "numeraire:", "scale": {"domain": ["f", "s", "u"], "range": [[12, 6], [1, 0], [1, 0]]}, "legend": {"labelExpr": "datum.label == 'f' ? 'franc' : datum.label == 's' ? 'sterling' : 'usd'"}},
        "strokeWidth": {"field": "n", "type": "nominal", "title": "numeraire:", "scale": {"type": "ordinal", "domain": ["f", "s", "u"], "range": [1.5, 1.5, 5]}, "legend": {"labelExpr": "datum.label == 'f' ? 'franc' : datum.label == 's' ? 'sterling' : 'usd'"}}
       }}
     ]}
   ]}
  ]},
  {"width": 1092, "height": 14, "data": {"values": [{}]}, "mark": "text", "encoding": {"text": {"value": ""}}},
  {"width": 1092, "height": 50, "data": {"values": [{}]}, "mark": "text", "encoding": {"text": {"value": ""}}, "view": {"fill": "white", "stroke": null}},
  {"width": 1092, "height": 16, "data": {"values": [{}]}, "mark": "text", "encoding": {"text": {"value": ""}}},
  {"spacing": 0, "bounds": "full", "hconcat": [
   {"spacing": 0, "bounds": "flush", "vconcat": [
    {"width": 70, "height": 45, "data": {"values": [{}]}, "mark": "text", "encoding": {"text": {"value": ""}}},
    {"width": 70, "height": 528, "data": {"values": [{"s": "1928w1=100"}]}, "mark": {"type": "text", "angle": 270, "fontSize": 29.5, "dy": 7, "color": "#000"}, "encoding": {"text": {"field": "s"}}}
   ]},
   {"columns": 2, "spacing": {"row": 20, "column": -7}, "bounds": "full", "align": "each", "concat": [
     {"spacing": 0, "bounds": "flush", "vconcat": [
      {"width": 469, "height": 36, "data": {"values": [{"s": "Cuba"}]}, "mark": {"type": "text", "fontSize": 27.5, "color": "#000"}, "encoding": {"text": {"field": "s"}}, "view": {"fill": "#d9e4ea", "stroke": null}},
      {"width": 469, "height": 240, "data": {"name": "d"}, "transform": [{"filter": {"field": "c", "equal": "CU"}}], "view": {"fill": "white", "stroke": null}, "mark": {"type": "line", "strokeJoin": "round"},
       "encoding": {
        "x": {"field": "t", "type": "quantitative", "scale": {"domain": [1918.25, 1940.25], "nice": false, "zero": false}, "axis": null},
        "y": {"field": "v", "type": "quantitative", "scale": {"domain": [-12.7, 216.3], "nice": false, "zero": false}, "axis": {"values": [0, 100, 200], "title": null, "grid": true, "gridColor": "#e3ecef", "gridWidth": 1.5, "domainColor": "#000", "domainWidth": 1.2, "tickColor": "#000", "tickWidth": 1.2, "tickSize": 9, "labelAngle": 270, "labelAlign": "center", "labelBaseline": "bottom", "labelPadding": 4, "labelFontSize": 25, "labelColor": "#000"}},
        "color": {"field": "n", "type": "nominal", "title": "numeraire:", "scale": {"domain": ["f", "s", "u"], "range": ["#1a476f", "#90353b", "#55752f"]}, "legend": {"labelExpr": "datum.label == 'f' ? 'franc' : datum.label == 's' ? 'sterling' : 'usd'"}},
        "strokeDash": {"field": "n", "type": "nominal", "title": "numeraire:", "scale": {"domain": ["f", "s", "u"], "range": [[12, 6], [1, 0], [1, 0]]}, "legend": {"labelExpr": "datum.label == 'f' ? 'franc' : datum.label == 's' ? 'sterling' : 'usd'"}},
        "strokeWidth": {"field": "n", "type": "nominal", "title": "numeraire:", "scale": {"type": "ordinal", "domain": ["f", "s", "u"], "range": [1.5, 1.5, 5]}, "legend": {"labelExpr": "datum.label == 'f' ? 'franc' : datum.label == 's' ? 'sterling' : 'usd'"}}
       }}
     ]},
     {"spacing": 0, "bounds": "flush", "vconcat": [
      {"width": 469, "height": 36, "data": {"values": [{"s": "Ireland"}]}, "mark": {"type": "text", "fontSize": 27.5, "color": "#000"}, "encoding": {"text": {"field": "s"}}, "view": {"fill": "#d9e4ea", "stroke": null}},
      {"width": 469, "height": 240, "data": {"name": "d"}, "transform": [{"filter": {"field": "c", "equal": "IE"}}], "view": {"fill": "white", "stroke": null}, "mark": {"type": "line", "strokeJoin": "round"},
       "encoding": {
        "x": {"field": "t", "type": "quantitative", "scale": {"domain": [1918.25, 1940.25], "nice": false, "zero": false}, "axis": null},
        "y": {"field": "v", "type": "quantitative", "scale": {"domain": [-12.7, 216.3], "nice": false, "zero": false}, "axis": {"values": [0, 100, 200], "title": null, "grid": true, "gridColor": "#e3ecef", "gridWidth": 1.5, "domain": false, "ticks": false, "labels": false}},
        "color": {"field": "n", "type": "nominal", "title": "numeraire:", "scale": {"domain": ["f", "s", "u"], "range": ["#1a476f", "#90353b", "#55752f"]}, "legend": {"labelExpr": "datum.label == 'f' ? 'franc' : datum.label == 's' ? 'sterling' : 'usd'"}},
        "strokeDash": {"field": "n", "type": "nominal", "title": "numeraire:", "scale": {"domain": ["f", "s", "u"], "range": [[12, 6], [1, 0], [1, 0]]}, "legend": {"labelExpr": "datum.label == 'f' ? 'franc' : datum.label == 's' ? 'sterling' : 'usd'"}},
        "strokeWidth": {"field": "n", "type": "nominal", "title": "numeraire:", "scale": {"type": "ordinal", "domain": ["f", "s", "u"], "range": [1.5, 1.5, 5]}, "legend": {"labelExpr": "datum.label == 'f' ? 'franc' : datum.label == 's' ? 'sterling' : 'usd'"}}
       }}
     ]},
     {"spacing": 0, "bounds": "flush", "vconcat": [
      {"width": 469, "height": 36, "data": {"values": [{"s": "New_Zealand"}]}, "mark": {"type": "text", "fontSize": 27.5, "color": "#000"}, "encoding": {"text": {"field": "s"}}, "view": {"fill": "#d9e4ea", "stroke": null}},
      {"width": 469, "height": 240, "data": {"name": "d"}, "transform": [{"filter": {"field": "c", "equal": "NZ"}}], "view": {"fill": "white", "stroke": null}, "mark": {"type": "line", "strokeJoin": "round"},
       "encoding": {
        "x": {"field": "t", "type": "quantitative", "scale": {"domain": [1918.25, 1940.25], "nice": false, "zero": false}, "axis": {"values": [1919, 1931.712], "labelExpr": "datum.value < 1925 ? '1919w1' : '1931w38'", "title": null, "grid": false, "domainColor": "#000", "domainWidth": 1.2, "tickColor": "#000", "tickWidth": 1.2, "tickSize": 9, "labelPadding": 11, "labelFontSize": 24, "labelColor": "#000", "labelFlush": false, "labelOverlap": false}},
        "y": {"field": "v", "type": "quantitative", "scale": {"domain": [-12.7, 216.3], "nice": false, "zero": false}, "axis": {"values": [0, 100, 200], "title": null, "grid": true, "gridColor": "#e3ecef", "gridWidth": 1.5, "domainColor": "#000", "domainWidth": 1.2, "tickColor": "#000", "tickWidth": 1.2, "tickSize": 9, "labelAngle": 270, "labelAlign": "center", "labelBaseline": "bottom", "labelPadding": 4, "labelFontSize": 25, "labelColor": "#000"}},
        "color": {"field": "n", "type": "nominal", "title": "numeraire:", "scale": {"domain": ["f", "s", "u"], "range": ["#1a476f", "#90353b", "#55752f"]}, "legend": {"labelExpr": "datum.label == 'f' ? 'franc' : datum.label == 's' ? 'sterling' : 'usd'"}},
        "strokeDash": {"field": "n", "type": "nominal", "title": "numeraire:", "scale": {"domain": ["f", "s", "u"], "range": [[12, 6], [1, 0], [1, 0]]}, "legend": {"labelExpr": "datum.label == 'f' ? 'franc' : datum.label == 's' ? 'sterling' : 'usd'"}},
        "strokeWidth": {"field": "n", "type": "nominal", "title": "numeraire:", "scale": {"type": "ordinal", "domain": ["f", "s", "u"], "range": [1.5, 1.5, 5]}, "legend": {"labelExpr": "datum.label == 'f' ? 'franc' : datum.label == 's' ? 'sterling' : 'usd'"}}
       }}
     ]},
     {"spacing": 0, "bounds": "flush", "vconcat": [
      {"width": 469, "height": 36, "data": {"values": [{"s": "Spain"}]}, "mark": {"type": "text", "fontSize": 27.5, "color": "#000"}, "encoding": {"text": {"field": "s"}}, "view": {"fill": "#d9e4ea", "stroke": null}},
      {"width": 469, "height": 240, "data": {"name": "d"}, "transform": [{"filter": {"field": "c", "equal": "ES"}}], "view": {"fill": "white", "stroke": null}, "mark": {"type": "line", "strokeJoin": "round"},
       "encoding": {
        "x": {"field": "t", "type": "quantitative", "scale": {"domain": [1918.25, 1940.25], "nice": false, "zero": false}, "axis": {"values": [1919, 1931.712], "labelExpr": "datum.value < 1925 ? '1919w1' : '1931w38'", "title": null, "grid": false, "domainColor": "#000", "domainWidth": 1.2, "tickColor": "#000", "tickWidth": 1.2, "tickSize": 9, "labelPadding": 11, "labelFontSize": 24, "labelColor": "#000", "labelFlush": false, "labelOverlap": false}},
        "y": {"field": "v", "type": "quantitative", "scale": {"domain": [-12.7, 216.3], "nice": false, "zero": false}, "axis": {"values": [0, 100, 200], "title": null, "grid": true, "gridColor": "#e3ecef", "gridWidth": 1.5, "domain": false, "ticks": false, "labels": false}},
        "color": {"field": "n", "type": "nominal", "title": "numeraire:", "scale": {"domain": ["f", "s", "u"], "range": ["#1a476f", "#90353b", "#55752f"]}, "legend": {"labelExpr": "datum.label == 'f' ? 'franc' : datum.label == 's' ? 'sterling' : 'usd'"}},
        "strokeDash": {"field": "n", "type": "nominal", "title": "numeraire:", "scale": {"domain": ["f", "s", "u"], "range": [[12, 6], [1, 0], [1, 0]]}, "legend": {"labelExpr": "datum.label == 'f' ? 'franc' : datum.label == 's' ? 'sterling' : 'usd'"}},
        "strokeWidth": {"field": "n", "type": "nominal", "title": "numeraire:", "scale": {"type": "ordinal", "domain": ["f", "s", "u"], "range": [1.5, 1.5, 5]}, "legend": {"labelExpr": "datum.label == 'f' ? 'franc' : datum.label == 's' ? 'sterling' : 'usd'"}}
       }}
     ]}
   ]}
  ]},
  {"width": 1092, "height": 51, "data": {"values": [{}]}, "mark": "text", "encoding": {"text": {"value": ""}}},
  {"spacing": 0, "bounds": "flush", "hconcat": [
   {"width": 131, "height": 53, "data": {"values": [{}]}, "mark": "text", "encoding": {"text": {"value": ""}}},
   {"width": 869, "height": 53, "data": {"values": [{}]}, "mark": "text", "encoding": {"text": {"value": ""}}, "view": {"fill": "white", "stroke": "#222", "strokeWidth": 1.5}}
  ]},
  {"width": 1092, "height": 5, "data": {"values": [{}]}, "mark": "text", "encoding": {"text": {"value": ""}}}
 ]}
],
"config": {
 "font": "Liberation Sans",
 "view": {"stroke": null},
 "legend": {"orient": "none", "legendX": 171, "legendY": 1426, "direction": "horizontal", "gridAlign": "each", "titleOrient": "left", "titleFontSize": 28.5, "titleFontWeight": "normal", "titleColor": "#000", "titlePadding": 43, "labelFontSize": 28.5, "labelColor": "#000", "labelOffset": 16, "columnPadding": 35, "symbolType": "stroke", "symbolSize": 11449, "clipHeight": 30, "padding": 0}
}
}
